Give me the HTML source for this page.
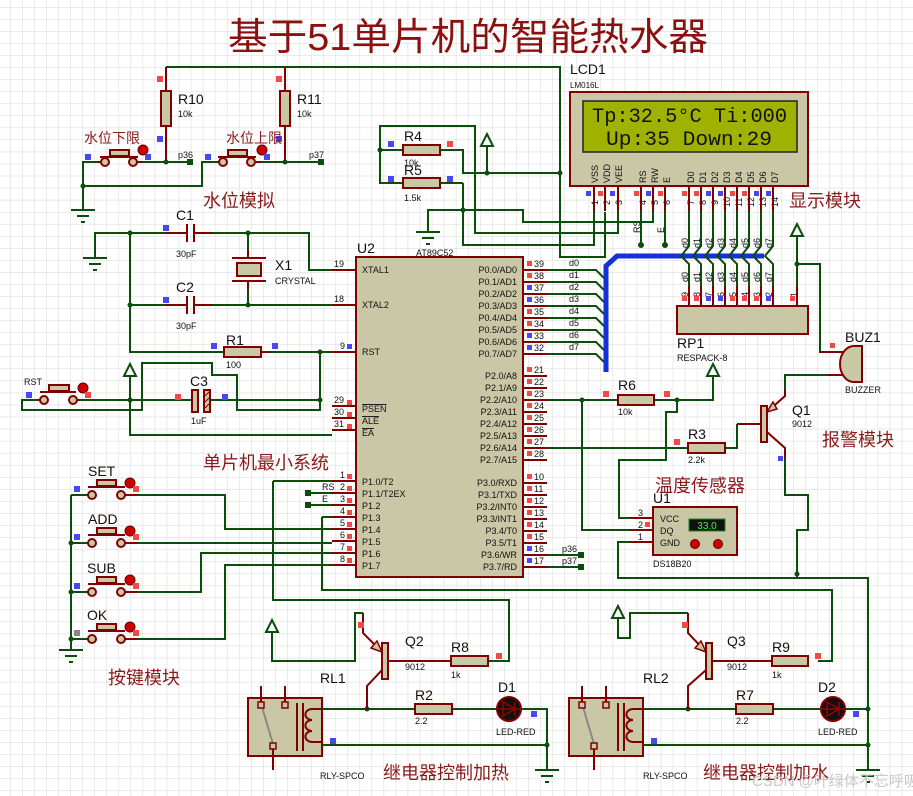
<!DOCTYPE html>
<html><head><meta charset="utf-8"><style>
html,body{margin:0;padding:0;background:#fff}
svg{display:block}
.w{stroke:#0b4d0b;stroke-width:2;fill:none}
.bus{stroke:#1530d8;stroke-width:5;fill:none}
.r{stroke:#800000;stroke-width:2;fill:none}
.b{fill:#c9c7a6;stroke:#800000;stroke-width:2}
text{font-family:"Liberation Sans","Noto Sans CJK SC",sans-serif;fill:#111}
.s{font-size:9px}
.m{font-size:14px}
.cn{font-family:"Liberation Sans","Noto Sans CJK SC",sans-serif;fill:#8b1a1a;font-size:18px}
.pr{fill:#f24848}.pb{fill:#4848f2}
.j{fill:#0b4d0b}
</style></head><body>
<svg width="913" height="796" viewBox="0 0 913 796" xmlns="http://www.w3.org/2000/svg">
<defs>
<pattern id="g" x="10" y="7" width="12.05" height="12.05" patternUnits="userSpaceOnUse">
<path d="M0 0H12.05M0 0V12.05" stroke="#dcdcdc" stroke-width="1.2" fill="none"/>
</pattern>
</defs>
<rect width="913" height="796" fill="#fff"/>
<rect width="913" height="796" fill="url(#g)"/>

<text x="228" y="50" font-size="38" fill="#8b1010" style="fill:#8b1010" textLength="480" lengthAdjust="spacingAndGlyphs">基于51单片机的智能热水器</text>

<!-- ===== Water level section ===== -->
<path class="w" d="M166 67H560V257H605V212"/>
<path class="r" d="M166 67V91M166 126V162M285 67V91M285 126V162"/>
<rect class="b" x="161" y="91" width="10" height="35"/>
<rect class="b" x="280" y="91" width="10" height="35"/>
<text class="m" x="178" y="104">R10</text><text class="s" x="178" y="117">10k</text>
<text class="m" x="297" y="104">R11</text><text class="s" x="297" y="117">10k</text>
<rect class="pr" x="157" y="76" width="6" height="6"/><rect class="pr" x="276" y="76" width="6" height="6"/>
<rect class="pb" x="157" y="136" width="6" height="6"/><rect class="pb" x="276" y="136" width="6" height="6"/>
<path class="w" d="M83 210V162H98M142 162H190M83 186H202V162H217M262 162H321"/>
<path class="r" d="M98 162H101M137 162H142M217 162H220M256 162H262"/>
<rect class="b" x="110" y="150" width="19" height="6"/><path class="r" d="M100 157H138"/>
<circle class="b" cx="105" cy="162" r="4"/><circle class="b" cx="133" cy="162" r="4"/>
<rect class="b" x="228" y="150" width="19" height="6"/><path class="r" d="M218 157H256"/>
<circle class="b" cx="223" cy="162" r="4"/><circle class="b" cx="251" cy="162" r="4"/>
<circle cx="143" cy="150" r="5" fill="#c00" stroke="#600"/><circle cx="262" cy="150" r="5" fill="#c00" stroke="#600"/>
<rect class="pb" x="85" y="154" width="6" height="6"/><rect class="pb" x="145" y="154" width="6" height="6"/>
<rect class="pb" x="205" y="154" width="6" height="6"/><rect class="pb" x="264" y="154" width="6" height="6"/>
<circle class="j" cx="166" cy="162" r="2.5"/><circle class="j" cx="285" cy="162" r="2.5"/><circle class="j" cx="83" cy="186" r="2.5"/>
<rect class="j" x="187" y="159" width="6" height="6"/><rect class="j" x="318" y="159" width="6" height="6"/>
<text class="s" x="178" y="158">p36</text><text class="s" x="309" y="158">p37</text>
<text class="cn" x="84" y="143" style="font-size:14px">水位下限</text>
<text class="cn" x="226" y="143" style="font-size:14px">水位上限</text>
<text class="cn" x="203" y="207">水位模拟</text>
<path class="w" d="M71 210H95M77 216H89M81 222H85"/>

<!-- ===== Crystal / reset ===== -->
<path class="w" d="M95 258V233H166M212 233H309V270H332M130 233V352H224M130 305H166M212 305H332M248 233V250M248 289V305"/>
<path class="w" d="M83 258H107M89 264H101M93 270H97"/>
<path class="r" d="M166 233H187M194 233H212M187 224V242M194 224V242M166 305H187M194 305H212M187 296V314M194 296V314"/>
<path class="r" d="M248 250V258M232 258H266M232 281H266M248 281V289"/>
<rect class="b" x="237" y="263" width="24" height="13"/>
<circle class="j" cx="130" cy="233" r="2.5"/><circle class="j" cx="248" cy="233" r="2.5"/>
<circle class="j" cx="130" cy="305" r="2.5"/><circle class="j" cx="248" cy="305" r="2.5"/>
<text class="m" x="176" y="220">C1</text><text class="s" x="176" y="257">30pF</text>
<text class="m" x="176" y="292">C2</text><text class="s" x="176" y="329">30pF</text>
<text class="m" x="275" y="270">X1</text><text class="s" x="275" y="284">CRYSTAL</text>
<rect class="pb" x="163" y="225" width="6" height="6"/><rect class="pb" x="163" y="297" width="6" height="6"/>
<path class="r" d="M224 352H224M261 352H270"/>
<rect class="b" x="224" y="347" width="37" height="10"/>
<path class="w" d="M270 352H332M320 352V410H237V375H212V363H142V410H22V400H38"/>
<text class="m" x="226" y="345">R1</text><text class="s" x="226" y="368">100</text>
<rect class="pb" x="211" y="343" width="6" height="6"/><rect class="pb" x="272" y="343" width="6" height="6"/>
<circle class="j" cx="320" cy="352" r="2.5"/><circle class="j" cx="320" cy="400" r="2.5"/>
<path class="w" d="M80 400H193M210 400H320M130 376V435H332"/>
<path class="w" d="M124 376L130 364L136 376Z"/>
<circle class="j" cx="130" cy="400" r="2.5"/>
<rect class="b" x="192" y="390" width="6" height="22"/>
<rect x="204" y="390" width="6" height="22" fill="#c9c7a6" stroke="#800000" stroke-width="2"/>
<path d="M205 396L209 392M205 402L209 398M205 408L209 404" stroke="#800000"/>
<text class="m" x="190" y="386">C3</text><text class="s" x="191" y="424">1uF</text>
<rect class="pr" x="175" y="394" width="6" height="6"/><rect class="pb" x="222" y="394" width="6" height="6"/>
<rect class="b" x="49" y="385" width="20" height="6"/><path class="r" d="M40 392H76M38 400H40M75 400H80"/>
<circle class="b" cx="44" cy="400" r="4"/><circle class="b" cx="73" cy="400" r="4"/>
<circle cx="83" cy="388" r="5" fill="#c00" stroke="#600"/>
<rect class="pb" x="26" y="392" width="6" height="6"/><rect class="pr" x="85" y="392" width="6" height="6"/>
<text class="s" x="24" y="385">RST</text>

<!-- ===== U2 chip ===== -->
<rect class="b" x="356" y="257" width="167" height="320"/>
<text class="m" x="357" y="253">U2</text><text class="s" x="416" y="256">AT89C52</text>
<g class="r">
<path d="M332 270H356M332 305H356M332 352H356M332 406H356M332 418H356M332 430H356"/>
<path d="M332 481H356M332 493H356M332 505H356M332 517H356M332 529H356M332 541H356M332 553H356M332 565H356"/>
<path d="M523 270H547M523 282H547M523 294H547M523 306H547M523 318H547M523 330H547M523 342H547M523 354H547"/>
<path d="M523 376H547M523 388H547M523 400H547M523 412H547M523 424H547M523 436H547M523 448H547M523 460H547"/>
<path d="M523 483H547M523 495H547M523 507H547M523 519H547M523 531H547M523 543H547M523 555H547M523 567H547"/>
</g>
<g class="s">
<text x="334" y="267">19</text><text x="334" y="302">18</text><text x="340" y="349">9</text>
<text x="334" y="403">29</text><text x="334" y="415">30</text><text x="334" y="427">31</text>
<text x="340" y="478">1</text><text x="340" y="490">2</text><text x="340" y="502">3</text><text x="340" y="514">4</text>
<text x="340" y="526">5</text><text x="340" y="538">6</text><text x="340" y="550">7</text><text x="340" y="562">8</text>
<text x="362" y="273">XTAL1</text><text x="362" y="308">XTAL2</text><text x="362" y="355">RST</text>
<text x="362" y="412" text-decoration="overline">PSEN</text><text x="362" y="424" text-decoration="overline">ALE</text><text x="362" y="436" text-decoration="overline">EA</text>
<text x="362" y="485">P1.0/T2</text><text x="362" y="497">P1.1/T2EX</text><text x="362" y="509">P1.2</text><text x="362" y="521">P1.3</text>
<text x="362" y="533">P1.4</text><text x="362" y="545">P1.5</text><text x="362" y="557">P1.6</text><text x="362" y="569">P1.7</text>
</g>
<g class="s" text-anchor="end">
<text x="517" y="273">P0.0/AD0</text><text x="517" y="285">P0.1/AD1</text><text x="517" y="297">P0.2/AD2</text><text x="517" y="309">P0.3/AD3</text>
<text x="517" y="321">P0.4/AD4</text><text x="517" y="333">P0.5/AD5</text><text x="517" y="345">P0.6/AD6</text><text x="517" y="357">P0.7/AD7</text>
<text x="517" y="379">P2.0/A8</text><text x="517" y="391">P2.1/A9</text><text x="517" y="403">P2.2/A10</text><text x="517" y="415">P2.3/A11</text>
<text x="517" y="427">P2.4/A12</text><text x="517" y="439">P2.5/A13</text><text x="517" y="451">P2.6/A14</text><text x="517" y="463">P2.7/A15</text>
<text x="517" y="486">P3.0/RXD</text><text x="517" y="498">P3.1/TXD</text><text x="517" y="510">P3.2/INT0</text><text x="517" y="522">P3.3/INT1</text>
<text x="517" y="534">P3.4/T0</text><text x="517" y="546">P3.5/T1</text><text x="517" y="558">P3.6/WR</text><text x="517" y="570">P3.7/RD</text>
</g>
<g class="s">
<text x="534" y="267">39</text><text x="534" y="279">38</text><text x="534" y="291">37</text><text x="534" y="303">36</text>
<text x="534" y="315">35</text><text x="534" y="327">34</text><text x="534" y="339">33</text><text x="534" y="351">32</text>
<text x="534" y="373">21</text><text x="534" y="385">22</text><text x="534" y="397">23</text><text x="534" y="409">24</text>
<text x="534" y="421">25</text><text x="534" y="433">26</text><text x="534" y="445">27</text><text x="534" y="457">28</text>
<text x="534" y="480">10</text><text x="534" y="492">11</text><text x="534" y="504">12</text><text x="534" y="516">13</text>
<text x="534" y="528">14</text><text x="534" y="540">15</text><text x="534" y="552">16</text><text x="534" y="564">17</text>
<text x="569" y="266">d0</text><text x="569" y="278">d1</text><text x="569" y="290">d2</text><text x="569" y="302">d3</text>
<text x="569" y="314">d4</text><text x="569" y="326">d5</text><text x="569" y="338">d6</text><text x="569" y="350">d7</text>
</g>
<g>
<rect class="pr" x="527" y="261" width="5" height="5"/><rect class="pr" x="527" y="273" width="5" height="5"/>
<rect class="pb" x="527" y="285" width="5" height="5"/><rect class="pb" x="527" y="297" width="5" height="5"/>
<rect class="pr" x="527" y="309" width="5" height="5"/><rect class="pr" x="527" y="321" width="5" height="5"/>
<rect class="pb" x="527" y="333" width="5" height="5"/><rect class="pb" x="527" y="345" width="5" height="5"/>
<rect class="pr" x="527" y="367" width="5" height="5"/><rect class="pr" x="527" y="379" width="5" height="5"/>
<rect class="pr" x="527" y="391" width="5" height="5"/><rect class="pr" x="527" y="403" width="5" height="5"/>
<rect class="pr" x="527" y="415" width="5" height="5"/><rect class="pr" x="527" y="427" width="5" height="5"/>
<rect class="pr" x="527" y="439" width="5" height="5"/><rect class="pr" x="527" y="451" width="5" height="5"/>
<rect class="pr" x="527" y="474" width="5" height="5"/><rect class="pr" x="527" y="486" width="5" height="5"/>
<rect class="pr" x="527" y="498" width="5" height="5"/><rect class="pr" x="527" y="510" width="5" height="5"/>
<rect class="pr" x="527" y="522" width="5" height="5"/><rect class="pr" x="527" y="534" width="5" height="5"/>
<rect class="pb" x="527" y="546" width="5" height="5"/><rect class="pb" x="527" y="558" width="5" height="5"/>
<rect class="pr" x="347" y="400" width="5" height="5"/><rect class="pr" x="347" y="412" width="5" height="5"/><rect class="pr" x="347" y="424" width="5" height="5"/>
<rect class="pb" x="347" y="344" width="5" height="5"/>
<rect class="pr" x="347" y="474" width="5" height="5"/><rect class="pr" x="347" y="486" width="5" height="5"/>
<rect class="pr" x="347" y="498" width="5" height="5"/><rect class="pr" x="347" y="510" width="5" height="5"/>
<rect class="pr" x="347" y="522" width="5" height="5"/><rect class="pr" x="347" y="534" width="5" height="5"/>
<rect class="pr" x="347" y="546" width="5" height="5"/><rect class="pr" x="347" y="558" width="5" height="5"/>
</g>
<!-- P0 to bus -->
<path class="w" d="M547 270H596L606 280M547 282H596L606 292M547 294H596L606 304M547 306H596L606 316M547 318H596L606 328M547 330H596L606 340M547 342H596L606 352M547 354H596L606 364"/>
<path class="bus" d="M606 372V266L617 256H764"/>
<!-- P3.6/3.7 -->
<path class="w" d="M547 555H581M547 567H581"/>
<rect class="j" x="578" y="552" width="6" height="6"/><rect class="j" x="578" y="564" width="6" height="6"/>
<text class="s" x="562" y="552">p36</text><text class="s" x="562" y="564">p37</text>

<!-- ===== LCD ===== -->
<rect class="b" x="570" y="92" width="238" height="94"/>
<rect x="583" y="101" width="214" height="51" fill="#a0b200" stroke="#222" stroke-width="1.5"/>
<text x="592" y="122" font-family="'Liberation Mono',monospace" font-size="20" style="font-family:'Liberation Mono',monospace" textLength="195" lengthAdjust="spacingAndGlyphs">Tp:32.5°C Ti:000</text>
<text x="606" y="145" font-family="'Liberation Mono',monospace" font-size="20" style="font-family:'Liberation Mono',monospace" textLength="166" lengthAdjust="spacingAndGlyphs">Up:35  Down:29</text>
<text class="m" x="570" y="74">LCD1</text><text class="s" x="570" y="88" style="font-size:8px">LM016L</text>
<g class="s" style="font-size:9px">
<text transform="translate(598,183) rotate(-90)">VSS</text><text transform="translate(610,183) rotate(-90)">VDD</text><text transform="translate(622,183) rotate(-90)">VEE</text>
<text transform="translate(646,183) rotate(-90)">RS</text><text transform="translate(658,183) rotate(-90)">RW</text><text transform="translate(670,183) rotate(-90)">E</text>
<text transform="translate(694,183) rotate(-90)">D0</text><text transform="translate(706,183) rotate(-90)">D1</text><text transform="translate(718,183) rotate(-90)">D2</text><text transform="translate(730,183) rotate(-90)">D3</text>
<text transform="translate(742,183) rotate(-90)">D4</text><text transform="translate(754,183) rotate(-90)">D5</text><text transform="translate(766,183) rotate(-90)">D6</text><text transform="translate(778,183) rotate(-90)">D7</text>
<text transform="translate(598,205) rotate(-90)">1</text><text transform="translate(610,205) rotate(-90)">2</text><text transform="translate(622,205) rotate(-90)">3</text>
<text transform="translate(646,205) rotate(-90)">4</text><text transform="translate(658,205) rotate(-90)">5</text><text transform="translate(670,205) rotate(-90)">6</text>
<text transform="translate(694,205) rotate(-90)">7</text><text transform="translate(706,205) rotate(-90)">8</text><text transform="translate(718,205) rotate(-90)">9</text><text transform="translate(730,207) rotate(-90)">10</text>
<text transform="translate(742,207) rotate(-90)">11</text><text transform="translate(754,207) rotate(-90)">12</text><text transform="translate(766,207) rotate(-90)">13</text><text transform="translate(778,207) rotate(-90)">14</text>
<text transform="translate(640,233) rotate(-90)">RS</text><text transform="translate(664,233) rotate(-90)">E</text>
<text transform="translate(688,248) rotate(-90)">d0</text><text transform="translate(700,248) rotate(-90)">d1</text><text transform="translate(712,248) rotate(-90)">d2</text><text transform="translate(724,248) rotate(-90)">d3</text>
<text transform="translate(736,248) rotate(-90)">d4</text><text transform="translate(748,248) rotate(-90)">d5</text><text transform="translate(760,248) rotate(-90)">d6</text><text transform="translate(772,248) rotate(-90)">d7</text>
<text transform="translate(688,282) rotate(-90)">d0</text><text transform="translate(700,282) rotate(-90)">d1</text><text transform="translate(712,282) rotate(-90)">d2</text><text transform="translate(724,282) rotate(-90)">d3</text>
<text transform="translate(736,282) rotate(-90)">d4</text><text transform="translate(748,282) rotate(-90)">d5</text><text transform="translate(760,282) rotate(-90)">d6</text><text transform="translate(772,282) rotate(-90)">d7</text>
<text transform="translate(688,297) rotate(-90)">9</text><text transform="translate(700,297) rotate(-90)">8</text><text transform="translate(712,297) rotate(-90)">7</text><text transform="translate(724,297) rotate(-90)">6</text>
<text transform="translate(736,297) rotate(-90)">5</text><text transform="translate(748,297) rotate(-90)">4</text><text transform="translate(760,297) rotate(-90)">3</text><text transform="translate(772,297) rotate(-90)">2</text>
<text transform="translate(797,297) rotate(-90)">1</text>
</g>
<g>
<rect class="pb" x="586" y="191" width="5" height="5"/><rect class="pr" x="598" y="191" width="5" height="5"/><rect class="pb" x="610" y="191" width="5" height="5"/>
<rect class="pr" x="634" y="191" width="5" height="5"/><rect class="pb" x="646" y="191" width="5" height="5"/><rect class="pr" x="658" y="191" width="5" height="5"/>
<rect class="pr" x="682" y="191" width="5" height="5"/><rect class="pr" x="694" y="191" width="5" height="5"/><rect class="pb" x="706" y="191" width="5" height="5"/><rect class="pb" x="718" y="191" width="5" height="5"/>
<rect class="pr" x="730" y="191" width="5" height="5"/><rect class="pr" x="742" y="191" width="5" height="5"/><rect class="pb" x="754" y="191" width="5" height="5"/><rect class="pb" x="766" y="191" width="5" height="5"/>
<rect class="pr" x="682" y="296" width="5" height="5"/><rect class="pr" x="694" y="296" width="5" height="5"/><rect class="pb" x="706" y="296" width="5" height="5"/><rect class="pb" x="718" y="296" width="5" height="5"/>
<rect class="pr" x="730" y="296" width="5" height="5"/><rect class="pr" x="742" y="296" width="5" height="5"/><rect class="pr" x="754" y="296" width="5" height="5"/><rect class="pb" x="766" y="296" width="5" height="5"/>
<rect class="pr" x="790" y="296" width="5" height="5"/>
</g>
<path class="r" d="M594 186V211M605 186V211M618 186V211M641 186V211M653 186V211M665 186V211M689 186V211M701 186V211M713 186V211M725 186V211M737 186V211M749 186V211M761 186V211M773 186V211"/>
<path class="r" d="M689 286V306M701 286V306M713 286V306M725 286V306M737 286V306M749 286V306M761 286V306M773 286V306M797 286V306"/>
<path class="w" d="M689 211V246L681 256L689 264V286M701 211V246L693 256L701 264V286M713 211V246L705 256L713 264V286M725 211V246L717 256L725 264V286M737 211V246L729 256L737 264V286M749 211V246L741 256L749 264V286M761 211V246L753 256L761 264V286M773 211V246L765 256L773 264V286"/>
<path class="w" d="M641 211V245M665 211V245M594 211V245H463V183M618 211V233H475V126H380V183H403M380 150H403M653 211V222H523V210H428V232M463 210H463"/>
<circle class="j" cx="641" cy="245" r="3"/><circle class="j" cx="665" cy="245" r="3"/><circle class="j" cx="463" cy="210" r="2.5"/><circle class="j" cx="380" cy="150" r="2.5"/>
<path class="w" d="M416 232H440M422 238H434M426 244H430"/>
<rect class="b" x="403" y="145" width="37" height="10"/><rect class="b" x="403" y="178" width="37" height="10"/>
<path class="w" d="M440 150H463V173H560M487 173V146M440 183H463"/>
<path class="w" d="M481 146L487 134L493 146Z"/>
<circle class="j" cx="487" cy="173" r="2.5"/><circle class="j" cx="560" cy="173" r="2.5"/>
<text class="m" x="404" y="141">R4</text><text class="s" x="404" y="166">10k</text>
<text class="m" x="404" y="175">R5</text><text class="s" x="404" y="201">1.5k</text>
<rect class="pb" x="388" y="141" width="6" height="6"/><rect class="pr" x="447" y="141" width="6" height="6"/>
<rect class="pb" x="388" y="176" width="6" height="6"/><rect class="pb" x="447" y="176" width="6" height="6"/>
<text class="cn" x="789" y="207">显示模块</text>

<!-- RP1 -->
<rect class="b" x="677" y="306" width="131" height="28"/>
<text class="m" x="677" y="348">RP1</text><text class="s" x="677" y="361">RESPACK-8</text>
<path class="w" d="M797 286V264H820V352H844M797 264V236"/>
<path class="w" d="M791 236L797 224L803 236Z"/>
<circle class="j" cx="797" cy="264" r="2.5"/>

<!-- Buzzer -->
<path class="r" d="M820 352H844M844 375H828"/>
<path d="M862 346V382H854A14 18 0 0 1 854 346Z" fill="#c9c7a6" stroke="#800000" stroke-width="2"/>
<text class="m" x="845" y="342">BUZ1</text><text class="s" x="845" y="393">BUZZER</text>
<rect class="pr" x="830" y="343" width="5" height="5"/>
<path class="w" d="M828 375H785V390"/>
<!-- Q1 -->
<rect class="b" x="761" y="406" width="6" height="36"/>
<path class="r" d="M785 390V396L767 412M767 432L785 448V458M737 424H761"/>
<path d="M767 412L773 402L777 409Z" fill="#c9c7a6" stroke="#800000" stroke-width="1.5"/>
<text class="m" x="792" y="415">Q1</text><text class="s" x="792" y="427">9012</text>
<rect class="pb" x="778" y="456" width="5" height="5"/>
<path class="w" d="M785 458V495H808V530H797V578"/>
<circle class="j" cx="797" cy="574" r="2.5"/>
<text class="cn" x="822" y="446">报警模块</text>

<!-- R6 / R3 / U1 -->
<path class="w" d="M547 400H618M654 400H713V376M582 400V530H653M677 400V412H666V460H619V518H653M547 448H688M725 448H737V424"/>
<path class="w" d="M707 376L713 364L719 376Z"/>
<circle class="j" cx="582" cy="400" r="2.5"/><circle class="j" cx="677" cy="400" r="2.5"/>
<rect class="b" x="618" y="395" width="36" height="10"/><rect class="b" x="688" y="443" width="37" height="10"/>
<text class="m" x="618" y="390">R6</text><text class="s" x="618" y="415">10k</text>
<text class="m" x="688" y="439">R3</text><text class="s" x="688" y="463">2.2k</text>
<rect class="pr" x="603" y="391" width="6" height="6"/><rect class="pr" x="664" y="391" width="6" height="6"/><rect class="pr" x="674" y="439" width="6" height="6"/>
<path class="r" d="M630 518H653M630 530H653M630 542H653"/>
<rect class="b" x="653" y="507" width="84" height="48"/>
<rect x="689" y="519" width="36" height="12" fill="#111" stroke="#1a8a1a"/>
<text x="707" y="529" font-size="10" text-anchor="middle" style="fill:#30ff30">33.0</text>
<circle cx="695" cy="544" r="4.5" fill="#c00" stroke="#600"/><circle cx="718" cy="544" r="4.5" fill="#c00" stroke="#600"/>
<text class="s" x="660" y="522">VCC</text><text class="s" x="660" y="534">DQ</text><text class="s" x="660" y="546">GND</text>
<text class="s" x="638" y="516">3</text><text class="s" x="638" y="528">2</text><text class="s" x="638" y="540">1</text>
<rect class="pr" x="645" y="522" width="5" height="5"/>
<text class="m" x="653" y="503">U1</text><text class="s" x="653" y="567">DS18B20</text>
<text class="cn" x="655" y="492">温度传感器</text>
<path class="w" d="M630 542H618V578H868V770"/>

<!-- ===== Buttons ===== -->
<path class="w" d="M71 495V650M59 650H83M65 656H77M69 662H73"/>
<g>
<path class="w" d="M71 495H88M71 543H88M71 592H88M71 639H88"/>
<path class="r" d="M88 487H125M88 535H125M88 584H125M88 631H125M125 495H137M125 543H137M125 592H137M125 639H137"/>
<rect class="b" x="97" y="480" width="19" height="6"/><rect class="b" x="97" y="528" width="19" height="6"/>
<rect class="b" x="97" y="577" width="19" height="6"/><rect class="b" x="97" y="624" width="19" height="6"/>
<circle class="b" cx="92" cy="495" r="4"/><circle class="b" cx="121" cy="495" r="4"/>
<circle class="b" cx="92" cy="543" r="4"/><circle class="b" cx="121" cy="543" r="4"/>
<circle class="b" cx="92" cy="592" r="4"/><circle class="b" cx="121" cy="592" r="4"/>
<circle class="b" cx="92" cy="639" r="4"/><circle class="b" cx="121" cy="639" r="4"/>
<circle cx="130" cy="483" r="5" fill="#c00" stroke="#600"/><circle cx="130" cy="531" r="5" fill="#c00" stroke="#600"/>
<circle cx="130" cy="580" r="5" fill="#c00" stroke="#600"/><circle cx="130" cy="627" r="5" fill="#c00" stroke="#600"/>
<rect class="pr" x="133" y="486" width="6" height="6"/><rect class="pr" x="133" y="534" width="6" height="6"/>
<rect class="pr" x="133" y="583" width="6" height="6"/><rect class="pr" x="133" y="630" width="6" height="6"/>
<rect class="pb" x="74" y="486" width="6" height="6"/><rect class="pb" x="74" y="534" width="6" height="6"/>
<rect class="pb" x="74" y="583" width="6" height="6"/><rect x="74" y="630" width="6" height="6" fill="#888"/>
<circle class="j" cx="71" cy="543" r="2.5"/><circle class="j" cx="71" cy="592" r="2.5"/><circle class="j" cx="71" cy="639" r="2.5"/>
</g>
<text class="m" x="88" y="476">SET</text><text class="m" x="88" y="524">ADD</text><text class="m" x="87" y="573">SUB</text><text class="m" x="87" y="620">OK</text>
<path class="w" d="M137 495H225V529H332M137 543H332M137 592H201V553H332M137 639H225V565H332"/>
<path class="w" d="M308 493H332M308 505H332M273 481H332M273 481V600H509V661H488M322 517H332M322 517V590H832V661H818"/>
<rect class="j" x="305" y="490" width="6" height="6"/><rect class="j" x="305" y="502" width="6" height="6"/>
<text class="s" x="322" y="490">RS</text><text class="s" x="322" y="502">E</text>
<text class="cn" x="203" y="469">单片机最小系统</text>
<text class="cn" x="108" y="684">按键模块</text>

<!-- ===== Relay 1 ===== -->
<rect class="b" x="248" y="698" width="74" height="58"/>
<path class="r" d="M261 686V705M285 686V705M273 746V770M297 703V751M303 703V751"/>
<path d="M262 707L273 744" stroke="#888" stroke-width="2"/>
<rect x="258" y="702" width="6" height="6" fill="#c9c7a6" stroke="#800000" stroke-width="1.5"/>
<rect x="282" y="702" width="6" height="6" fill="#c9c7a6" stroke="#800000" stroke-width="1.5"/>
<rect x="270" y="743" width="6" height="6" fill="#c9c7a6" stroke="#800000" stroke-width="1.5"/>
<path class="r" d="M322 709H312A6 5 0 0 0 312 720A6 5 0 0 0 312 731A6 5 0 0 0 312 742H322"/>
<text class="m" x="320" y="683">RL1</text><text class="s" x="320" y="779">RLY-SPCO</text>
<rect class="pb" x="330" y="738" width="6" height="6"/>
<path class="w" d="M322 709H415M452 709H497M521 709H547V770M322 745H547"/>
<circle class="j" cx="367" cy="709" r="2.5"/><circle class="j" cx="547" cy="745" r="2.5"/>
<path class="w" d="M535 770H559M541 776H553M545 782H549"/>
<rect class="b" x="415" y="704" width="37" height="10"/>
<text class="m" x="415" y="700">R2</text><text class="s" x="415" y="724">2.2</text>
<circle cx="509" cy="709" r="12" fill="#111" stroke="#800000" stroke-width="2"/>
<path d="M503 702V716L515 709Z M515 702V716 M497 709H521" stroke="#900" stroke-width="1.5" fill="none"/>
<text class="m" x="498" y="692">D1</text><text class="s" x="496" y="735">LED-RED</text>
<rect class="pb" x="531" y="711" width="6" height="6"/>
<!-- Q2 -->
<rect class="b" x="382" y="643" width="6" height="36"/>
<path class="r" d="M363 613V633L382 652M382 670L367 686V709M388 661H451"/>
<path d="M382 652L371 648L377 641Z" fill="#c9c7a6" stroke="#800000" stroke-width="1.5"/>
<path class="w" d="M363 613H355V661H272V632"/>
<path class="w" d="M266 632L272 620L278 632Z"/>
<rect class="pr" x="358" y="622" width="6" height="6"/>
<text class="m" x="405" y="646">Q2</text><text class="s" x="405" y="670">9012</text>
<rect class="b" x="451" y="656" width="37" height="10"/>
<text class="m" x="451" y="652">R8</text><text class="s" x="451" y="678">1k</text>
<rect class="pr" x="496" y="653" width="6" height="6"/>
<text class="cn" x="383" y="779">继电器控制加热</text>

<!-- ===== Relay 2 ===== -->
<rect class="b" x="569" y="698" width="74" height="58"/>
<path class="r" d="M582 686V705M606 686V705M594 746V770M618 703V751M624 703V751"/>
<path d="M583 707L594 744" stroke="#888" stroke-width="2"/>
<rect x="579" y="702" width="6" height="6" fill="#c9c7a6" stroke="#800000" stroke-width="1.5"/>
<rect x="603" y="702" width="6" height="6" fill="#c9c7a6" stroke="#800000" stroke-width="1.5"/>
<rect x="591" y="743" width="6" height="6" fill="#c9c7a6" stroke="#800000" stroke-width="1.5"/>
<path class="r" d="M643 709H633A6 5 0 0 0 633 720A6 5 0 0 0 633 731A6 5 0 0 0 633 742H643"/>
<text class="m" x="643" y="683">RL2</text><text class="s" x="643" y="779">RLY-SPCO</text>
<rect class="pb" x="651" y="738" width="6" height="6"/>
<path class="w" d="M643 709H736M772 709H821M845 709H868M643 745H868"/>
<circle class="j" cx="688" cy="709" r="2.5"/><circle class="j" cx="868" cy="709" r="2.5"/><circle class="j" cx="868" cy="745" r="2.5"/>
<path class="w" d="M856 770H880M862 776H874M866 782H870"/>
<rect class="b" x="736" y="704" width="37" height="10"/>
<text class="m" x="736" y="700">R7</text><text class="s" x="736" y="724">2.2</text>
<circle cx="833" cy="709" r="12" fill="#111" stroke="#800000" stroke-width="2"/>
<path d="M827 702V716L839 709Z M839 702V716 M821 709H845" stroke="#900" stroke-width="1.5" fill="none"/>
<text class="m" x="818" y="692">D2</text><text class="s" x="818" y="735">LED-RED</text>
<rect class="pb" x="853" y="711" width="6" height="6"/>
<!-- Q3 -->
<rect class="b" x="706" y="643" width="6" height="36"/>
<path class="r" d="M688 613V633L706 652M706 670L688 686V709M712 661H772"/>
<path d="M706 652L695 648L701 641Z" fill="#c9c7a6" stroke="#800000" stroke-width="1.5"/>
<path class="w" d="M688 613H630V638H618V618"/>
<path class="w" d="M612 618L618 606L624 618Z"/>
<rect class="pr" x="682" y="622" width="6" height="6"/>
<text class="m" x="727" y="646">Q3</text><text class="s" x="727" y="670">9012</text>
<rect class="b" x="772" y="656" width="36" height="10"/>
<text class="m" x="772" y="652">R9</text><text class="s" x="772" y="678">1k</text>
<rect class="pr" x="815" y="653" width="6" height="6"/>
<text class="cn" x="703" y="779">继电器控制加水</text>
<text x="752" y="786" font-size="15" style="fill:#c8c8c8;font-size:15px">CSDN @叶绿体不忘呼吸</text>
</svg>
</body></html>
